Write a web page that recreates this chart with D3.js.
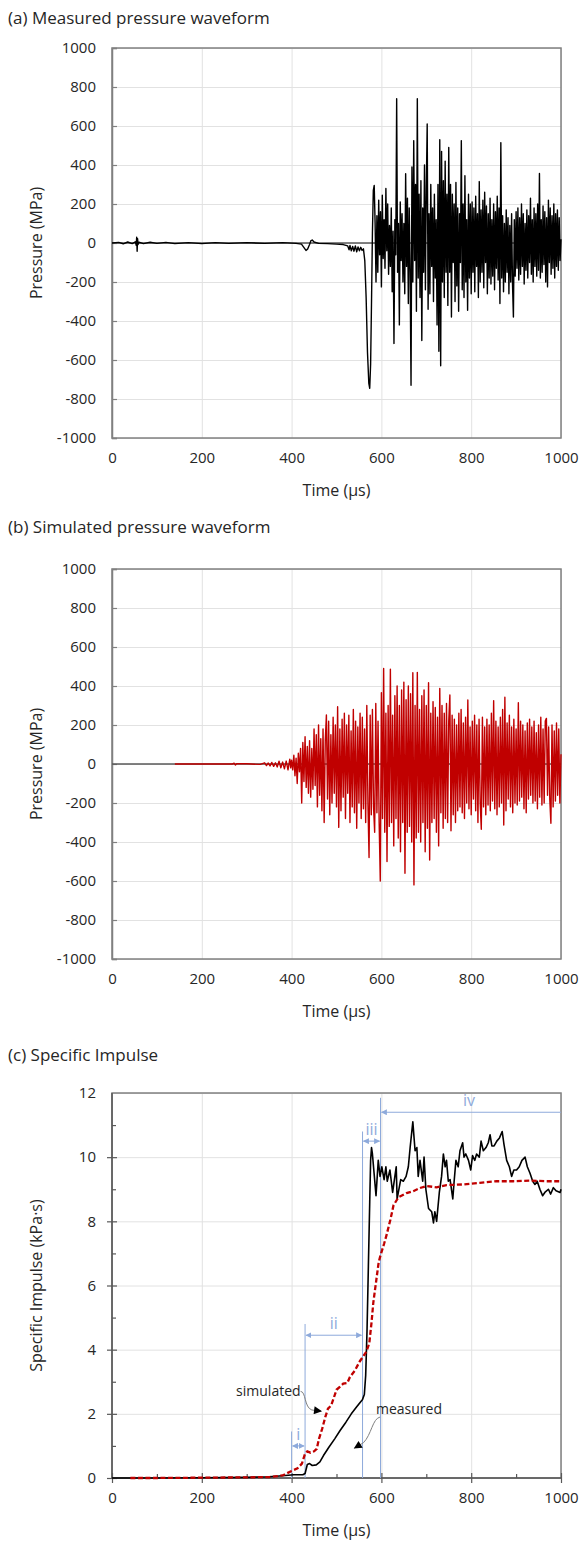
<!DOCTYPE html>
<html>
<head>
<meta charset="utf-8">
<script src="https://cdn.jsdelivr.net/npm/d3@7"></script>
<style>
  body { margin: 0; background: #fff; }
  text { font-family: "Open Sans", sans-serif; fill: #262626; }
</style>
</head>
<body>
<div id="plotDiv"></div>
<script>
// --- Data ---
const timeTicks = [0, 200, 400, 600, 800, 1000];
const pressureTicks = [-1000, -800, -600, -400, -200, 0, 200, 400, 600, 800, 1000];
const impulseTicks = [0, 2, 4, 6, 8, 10, 12];

// (a) measured pressure, quiet part + first dip as [time µs, MPa]
const measuredLead = [
  [0,0],[15,3],[25,-4],[35,5],[45,-3],[52,6],[54,-12],[55,30],[56,-42],[57,22],[58,-8],[60,4],
  [70,-3],[85,4],[100,-2],[120,3],[140,-3],[170,2],[200,-3],[230,2],[260,-2],[300,2],[340,-2],
  [380,2],[410,-2],[422,-6],[428,-25],[432,-38],[436,-30],[440,-8],[443,12],[446,15],[450,5],
  [460,-2],[480,-3],[500,-6],[515,-8],[525,-15],[528,-35],[530,-12],[533,-40],[536,-18],[539,-42],
  [542,-15],[545,-45],[548,-20],[551,-40],[554,-22],[557,-38],[560,-30],[563,-90],[566,-280],
  [569,-560],[572,-720],[574,-745],[576,-620],[578,-300],[580,50],[582,270],[584,295],[586,100]
];
// (a) measured pressure, dense part sampled every 2 µs from 588 µs
const measuredStart = 588, measuredStep = 2;
const measuredValues = [
  -200, 140, -150, 220, -60, 160, -225, 245, -80, 120,
  -130, 280, -40, 200, -160, 90, -120, 180, -250, 60,
  -515, 120, -60, 740, -150, 100, -420, 210, -90, 150,
  -200, 100, -260, 355, -120, 230, -310, 180, -150, -730,
  390, -200, 525, -90, 300, -350, 740, -180, 250, -280,
  320, -500, 180, -150, 400, -240, 280, 610, -340, 150,
  -260, 300, -120, 180, -300, 250, -180, 120, -420, 300,
  -555, 530, -630, 470, -200, 320, -280, 420, -150, 250,
  -320, 490, -150, 300, -380, 250, -100, 200, -300, 310,
  -220, 180, -350, 150, -100, 525, -240, 200, -280, 345,
  -200, 120, -345, 250, -180, 200, -260, 210, -150, 180,
  -250, 240, -120, 150, -280, 315, -200, 170, -150, 220,
  -230, 260, -100, 190, -260, 150, -180, 230, -210, 120,
  -170, 200, -240, 160, -130, 240, -190, 180, -310, 515,
  -180, 140, -250, 100, -200, 170, -150, 130, -260, 90,
  -200, 150, -210, -380, 120, -170, 160, -130, 180, -190,
  130, -160, 200, -120, 150, -210, 100, -140, 170, -180,
  140, -100, 230, -160, 120, -200, 180, -120, 150, -170,
  200, -140, 357, -180, 120, -150, 190, -110, 160, -200,
  130, -225, 220, -100, 180, -160, 140, -130, 200, -180,
  150, -120, 170, -140, 130, -90, 20
];

// (b) simulated pressure, quiet part as [time µs, MPa]
const simulatedLead = [
  [140,0],[268,0],[272,4],[275,-5],[278,2],[300,1],[330,-2],[340,6],[344,-8],[348,5],[352,-10],
  [356,8],[360,-12],[364,6],[368,-15],[372,14],[376,-20],[380,10],[384,-25],[388,15],[392,-30],
  [396,25],[398,-20]
];
// (b) simulated pressure, dense part sampled every 2.5 µs from 400 µs
const simulatedStart = 400, simulatedStep = 2.5;
const simulatedValues = [
  20, -30, 45, -60, 30, -100, 55, -40,
  80, -200, 110, -90, 140, -120, 90, -150,
  120, -170, 80, -130, 180, -110, 150, -220,
  200, -160, 130, -240, 180, -300, 120, 251,
  -180, 220, -260, 150, -200, 240, -150, 200,
  -220, 294, -325, 180, -240, 230, -170, 260,
  -280, 200, -150, 250, -300, 170, -220, 280,
  -250, 220, -330, 190, -200, 260, -280, 240,
  -230, 180, -300, 300, -200, -480, 250, -260,
  280, -220, -350, 310, -250, 220, -300, -600,
  366, -280, 490, -350, 260, -500, 300, -320,
  486, -300, 250, -420, 350, -280, 400, -380,
  300, -450, 380, -300, 420, -560, 330, -350,
  400, -320, 360, -400, 468, -620, 300, -380,
  470, -350, 280, -400, 350, -300, 380, -450,
  300, -330, 417, -492, 260, -300, 320, -280,
  290, -350, 240, -420, 388, -250, 300, -330,
  260, -280, 310, -300, 220, 354, -342, 250,
  -260, 230, -300, 200, -240, 260, -220, 280,
  -250, 210, -280, 240, -200, 328, -230, 190,
  -260, 220, -180, 250, -240, 200, -300, 230,
  -200, -335, 240, -220, 190, -260, 230, -210,
  200, -240, 260, -190, 325, -230, 220, -260,
  190, -220, 240, -200, 280, -313, 342, -240,
  210, -180, 250, -220, 190, -250, 230, -200,
  180, -210, 314, -190, 220, -170, 200, -230,
  170, -250, 210, -180, 230, -160, 190, -200,
  220, -190, 160, -230, 200, -170, 240, -210,
  180, -200, 220, 234, -160, 190, -180, -304,
  200, -220, 170, -190, 210, -160, 180, -200,
  50
];

// (c) specific impulse, [time µs, kPa·s]
const impulseMeasured = [
  [0,0],[100,0],[200,0.01],[300,0.02],[350,0.04],[380,0.07],[405,0.1],[425,0.1],[430,0.14],
  [435,0.42],[440,0.45],[446,0.39],[455,0.41],[463,0.5],[471,0.7],[483,0.96],[496,1.22],
  [508,1.48],[521,1.74],[533,2.0],[545,2.22],[558,2.45],[562,2.6],[565,3.2],[568,4.6],
  [571,6.6],[574,8.6],[576,9.9],[578,10.3],[580,10.1],[588,8.8],[593,9.9],[597,9.4],[601,9.7],
  [606,9.3],[610,9.7],[613,9.25],[619,9.6],[625,8.9],[633,9.7],[635,8.7],[643,9.3],[649,9.25],
  [655,9.4],[660,9.7],[664,10.3],[670,11.1],[675,10.2],[679,10.3],[682,9.4],[686,9.9],[692,9.25],
  [695,10.0],[699,9.0],[705,8.4],[712,8.3],[716,7.95],[719,8.3],[723,8.0],[729,8.9],[734,9.4],
  [738,10.1],[742,9.7],[745,9.9],[749,9.25],[753,9.3],[759,8.7],[762,9.25],[766,9.9],[771,9.7],
  [775,10.2],[781,10.45],[784,10.0],[788,10.1],[794,9.9],[799,9.6],[803,10.05],[808,9.9],
  [812,10.1],[818,10.0],[822,10.5],[827,10.2],[833,10.3],[838,10.45],[842,10.7],[846,10.35],
  [851,10.35],[857,10.5],[863,10.6],[869,10.8],[873,10.4],[879,9.9],[885,9.7],[890,9.4],
  [895,9.6],[901,9.6],[907,9.7],[913,9.9],[920,10.0],[925,9.7],[931,9.5],[937,9.25],[942,9.15],
  [947,9.25],[953,9.0],[959,8.8],[964,8.9],[972,9.0],[977,8.85],[983,9.05],[989,8.95],
  [998,8.9],[1000,9.0]
];
const impulseSimulated = [
  [41,0],[100,0],[200,0.01],[300,0.02],[351,0.03],[380,0.08],[400,0.22],[413,0.3],[423,0.45],
  [430,0.76],[435,0.83],[442,0.79],[450,0.83],[456,0.91],[461,1.22],[468,1.53],[475,1.9],
  [481,2.16],[488,2.26],[494,2.5],[500,2.75],[508,2.85],[515,2.94],[524,2.96],[530,3.15],
  [541,3.35],[552,3.64],[560,3.8],[567,3.95],[573,4.2],[578,4.84],[582,5.47],[588,6.1],
  [594,6.73],[598,6.94],[606,7.3],[612,7.6],[620,8.05],[627,8.5],[638,8.75],[656,8.88],
  [671,8.94],[686,9.04],[701,9.1],[723,9.06],[745,9.13],[782,9.15],[819,9.2],[857,9.25],
  [894,9.25],[931,9.27],[968,9.25],[1000,9.25]
];

// (c) phase boundaries (µs) and the height each marker line reaches (kPa·s)
const phaseLines = [[400, 1.45], [430, 4.8], [558, 10.8], [598, 11.85]];
const phaseArrows = [
  {label: "i",   from: 400, to: 430,  y: 1.0,  both: true},
  {label: "ii",  from: 430, to: 558,  y: 4.45, both: true},
  {label: "iii", from: 558, to: 598,  y: 10.5, both: true},
  {label: "iv",  from: 598, to: 1000, y: 11.4, both: false}
];

const series = (lead, start, step, values) =>
  lead.concat(values.map((v, i) => [start + i * step, v]));

// --- SVG Setup ---
const svg = d3.select("#plotDiv").append("svg")
  .attr("width", 582).attr("height", 1546);

const defs = svg.append("defs");
defs.append("marker").attr("id", "blueHead")
  .attr("viewBox", "0 0 10 10").attr("refX", 9).attr("refY", 5)
  .attr("markerWidth", 6).attr("markerHeight", 6).attr("markerUnits", "userSpaceOnUse")
  .attr("orient", "auto-start-reverse")
  .append("path").attr("d", "M0,0L10,5L0,10Z").attr("fill", "#8eaadb");
defs.append("marker").attr("id", "blackHead")
  .attr("viewBox", "0 0 10 10").attr("refX", 9).attr("refY", 5)
  .attr("markerWidth", 9).attr("markerHeight", 8).attr("markerUnits", "userSpaceOnUse")
  .attr("orient", "auto")
  .append("path").attr("d", "M0,0L10,5L0,10Z").attr("fill", "#000");

const x = d3.scaleLinear().domain([0, 1000]).range([112, 561]);
const gridColor = "#e2e2e2";
const frameColor = "#808080";
const plain = d => String(d); // no thousands separator, plain hyphen minus

// --- Common frame: grid, border, tick labels, titles ---
function frame(y, ticks, title, titleY, yTitle) {
  const g = svg.append("g");
  const bottom = y.range()[0], top = y.range()[1];

  // gridlines
  g.append("g").attr("transform", `translate(${x(0)},0)`)
    .call(d3.axisLeft(y).tickValues(ticks).tickSize(-(x(1000) - x(0))).tickFormat(""))
    .call(s => s.select(".domain").remove())
    .call(s => s.selectAll("line").attr("stroke", gridColor));
  g.append("g").attr("transform", `translate(0,${bottom})`)
    .call(d3.axisBottom(x).tickValues(timeTicks).tickSize(-(bottom - top)).tickFormat(""))
    .call(s => s.select(".domain").remove())
    .call(s => s.selectAll("line").attr("stroke", gridColor));

  // border
  g.append("rect")
    .attr("x", x(0)).attr("y", top)
    .attr("width", x(1000) - x(0)).attr("height", bottom - top)
    .attr("fill", "none").attr("stroke", frameColor).attr("stroke-width", 1.5);

  // tick labels
  g.append("g").attr("transform", `translate(${x(0)},0)`)
    .call(d3.axisLeft(y).tickValues(ticks).tickFormat(plain).tickSize(0).tickPadding(16))
    .call(s => s.select(".domain").remove())
    .call(s => s.selectAll("text").attr("font-size", 15).attr("font-family", null));
  g.append("g").attr("transform", `translate(0,${bottom})`)
    .call(d3.axisBottom(x).tickValues(timeTicks).tickFormat(plain).tickSize(0).tickPadding(14))
    .call(s => s.select(".domain").remove())
    .call(s => s.selectAll("text").attr("font-size", 15).attr("font-family", null));

  // titles
  g.append("text").attr("x", 8).attr("y", titleY).attr("font-size", 17).text(title);
  g.append("text").attr("x", (x(0) + x(1000)) / 2).attr("y", bottom + 58)
    .attr("text-anchor", "middle").attr("font-size", 16).text("Time (µs)");
  g.append("text")
    .attr("transform", `translate(36,${(top + bottom) / 2}) rotate(-90)`)
    .attr("text-anchor", "middle").attr("dy", "0.35em").attr("font-size", 16).text(yTitle);
  return g;
}

function pressurePanel(top, bottom, title, titleY, data, color) {
  const y = d3.scaleLinear().domain([-1000, 1000]).range([bottom, top]);
  const g = frame(y, pressureTicks, title, titleY, "Pressure (MPa)");
  // inside ticks on left axis
  g.append("g").attr("transform", `translate(${x(0)},0)`)
    .call(d3.axisLeft(y).tickValues(pressureTicks).tickSize(-5).tickFormat(""))
    .call(s => s.select(".domain").attr("stroke", frameColor).attr("stroke-width", 1.5))
    .call(s => s.selectAll("line").attr("stroke", frameColor).attr("stroke-width", 1.2));
  // time axis drawn at zero pressure
  g.append("line")
    .attr("x1", x(0)).attr("x2", x(1000)).attr("y1", y(0)).attr("y2", y(0))
    .attr("stroke", "#595959").attr("stroke-width", 1.5);
  g.append("path").datum(data)
    .attr("fill", "none").attr("stroke", color).attr("stroke-width", 1.4)
    .attr("stroke-linejoin", "round")
    .attr("d", d3.line().x(d => x(d[0])).y(d => y(d[1])));
}

// --- (a) and (b) ---
pressurePanel(48, 438, "(a) Measured pressure waveform", 24,
  series(measuredLead, measuredStart, measuredStep, measuredValues), "#000");
pressurePanel(569, 959, "(b) Simulated pressure waveform", 533,
  series(simulatedLead, simulatedStart, simulatedStep, simulatedValues), "#c00000");

// --- (c) Specific impulse ---
const yc = d3.scaleLinear().domain([0, 12]).range([1478, 1093]);
const gc = frame(yc, impulseTicks, "(c) Specific Impulse", 1061, "Specific Impulse (kPa·s)");

// axis lines with crossing major ticks and inside minor ticks
gc.append("g").attr("transform", `translate(${x(0)},0)`)
  .call(d3.axisLeft(yc).tickValues(d3.range(1, 12, 2)).tickSize(-4).tickFormat(""))
  .call(s => s.select(".domain").remove())
  .call(s => s.selectAll("line").attr("stroke", "#595959").attr("stroke-width", 1.2));
gc.append("g").attr("transform", `translate(${x(0) + 5},0)`)
  .call(d3.axisLeft(yc).tickValues(impulseTicks.slice(0, -1)).tickSize(10).tickFormat(""))
  .call(s => s.select(".domain").remove())
  .call(s => s.selectAll("line").attr("stroke", "#595959").attr("stroke-width", 1.2));
gc.append("g").attr("transform", `translate(0,${yc(0)})`)
  .call(d3.axisBottom(x).tickValues(d3.range(100, 1000, 200)).tickSize(-4).tickFormat(""))
  .call(s => s.select(".domain").remove())
  .call(s => s.selectAll("line").attr("stroke", "#595959").attr("stroke-width", 1.2));
gc.append("g").attr("transform", `translate(0,${yc(0) - 5})`)
  .call(d3.axisBottom(x).tickValues(timeTicks).tickSize(10).tickFormat(""))
  .call(s => s.select(".domain").remove())
  .call(s => s.selectAll("line").attr("stroke", "#595959").attr("stroke-width", 1.2));
gc.append("line").attr("x1", x(0)).attr("x2", x(0)).attr("y1", yc(0)).attr("y2", yc(12))
  .attr("stroke", "#595959").attr("stroke-width", 1.5);
gc.append("line").attr("x1", x(0)).attr("x2", x(1000)).attr("y1", yc(0)).attr("y2", yc(0))
  .attr("stroke", "#595959").attr("stroke-width", 1.5);

// phase markers
const blue = "#8eaadb";
gc.selectAll(".phase").data(phaseLines).join("line")
  .attr("x1", d => x(d[0])).attr("x2", d => x(d[0]))
  .attr("y1", yc(0)).attr("y2", d => yc(d[1]))
  .attr("stroke", blue).attr("stroke-width", 1);
gc.selectAll(".parrow").data(phaseArrows).join("line")
  .attr("x1", d => d.both ? x(d.from) + 1 : x(d.to))
  .attr("x2", d => d.both ? x(d.to) - 1 : x(d.from) + 1)
  .attr("y1", d => yc(d.y)).attr("y2", d => yc(d.y))
  .attr("stroke", blue).attr("stroke-width", 1)
  .attr("marker-end", "url(#blueHead)")
  .attr("marker-start", d => d.both ? "url(#blueHead)" : null);
gc.selectAll(".plabel").data(phaseArrows).join("text")
  .attr("x", d => d.label === "iv" ? x(795) : x((d.from + d.to) / 2))
  .attr("y", d => yc(d.y) - 6)
  .attr("text-anchor", "middle").attr("font-size", 16)
  .style("fill", blue).text(d => d.label);

// impulse curves
const lineC = d3.line().x(d => x(d[0])).y(d => yc(d[1]));
gc.append("path").datum(impulseMeasured)
  .attr("fill", "none").attr("stroke", "#000").attr("stroke-width", 1.6)
  .attr("stroke-linejoin", "round").attr("d", lineC);
gc.append("path").datum(impulseSimulated)
  .attr("fill", "none").attr("stroke", "#c00000").attr("stroke-width", 2.3)
  .attr("stroke-dasharray", "5,2.5").attr("d", lineC);

// labels with curved pointers
gc.append("text").attr("x", x(420)).attr("y", yc(2.55))
  .attr("text-anchor", "end").attr("font-size", 14).text("simulated");
gc.append("path")
  .attr("d", `M${x(420)},${yc(2.7)} C${x(432)},${yc(2.7)} ${x(428)},${yc(2.2)} ${x(445)},${yc(2.12)} L${x(466)},${yc(2.08)}`)
  .attr("fill", "none").attr("stroke", "#808080").attr("stroke-width", 1)
  .attr("marker-end", "url(#blackHead)");
gc.append("text").attr("x", x(588)).attr("y", yc(2.0))
  .attr("font-size", 14).text("measured");
gc.append("path")
  .attr("d", `M${x(597)},${yc(1.9)} C${x(580)},${yc(1.85)} ${x(578)},${yc(1.35)} ${x(560)},${yc(1.1)} L${x(540)},${yc(0.93)}`)
  .attr("fill", "none").attr("stroke", "#808080").attr("stroke-width", 1)
  .attr("marker-end", "url(#blackHead)");
</script>
</body>
</html>
